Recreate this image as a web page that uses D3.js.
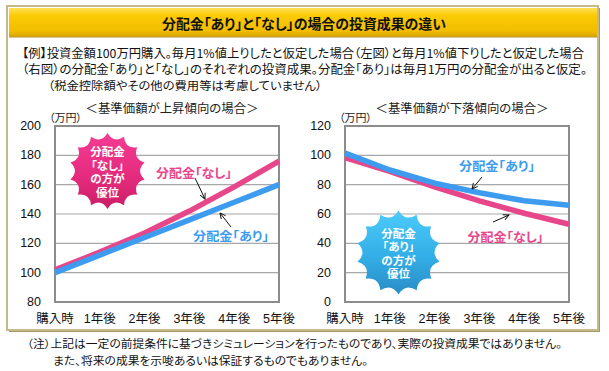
<!DOCTYPE html>
<html>
<head>
<meta charset="utf-8">
<script src="https://cdn.jsdelivr.net/npm/d3@7/dist/d3.min.js"></script>
<style>
  html, body { margin: 0; padding: 0; background: #fff; }
  svg { display: block; }
  text { font-feature-settings: "palt"; }
</style>
</head>
<body>
<div id="box"></div>
<script>
// 横軸
const periods = ['購入時', '1年後', '2年後', '3年後', '4年後', '5年後'];
// 左図：基準価額が上昇傾向
const upNashi = [102, 114, 127, 142, 158.5, 176];
const upAri   = [100, 112, 124, 136, 148, 160];
const upTicks = [80, 100, 120, 140, 160, 180, 200];
// 右図：基準価額が下落傾向
const downAri   = [101.5, 90, 81, 74.5, 69, 66];
const downNashi = [98.5, 89, 78.5, 69, 60.5, 53];
const downTicks = [0, 20, 40, 60, 80, 100, 120];

const PINK = '#e8468a';
const BLUE = '#3d9cf0';
const JP = '"Noto Sans CJK JP", sans-serif';
const NUM = '"Liberation Sans", "Noto Sans CJK JP", sans-serif';

let svg = d3.select('#box').append('svg')
    .attr('width', 609)
    .attr('height', 371);

let defs = svg.append('defs');

function grad(id, stops, x2 = 0, y2 = 1) {
    let g = defs.append('linearGradient').attr('id', id)
        .attr('x1', 0).attr('y1', 0).attr('x2', x2).attr('y2', y2);
    stops.forEach(s => g.append('stop').attr('offset', s[0]).attr('stop-color', s[1]));
}
grad('barGrad', [[0, '#ffe15a'], [0.25, '#fbcb06'], [0.8, '#f2bd00'], [1, '#d9a400']]);
grad('pinkGrad', [[0, '#f43c94'], [0.6, '#e42a7c'], [1, '#c91f66']]);
grad('blueGrad', [[0, '#4ccbfa'], [0.55, '#33aee6'], [1, '#2a8cc6']]);

let mk = defs.append('marker').attr('id', 'arr')
    .attr('viewBox', '0 0 10 10').attr('refX', 9).attr('refY', 5)
    .attr('markerWidth', 7).attr('markerHeight', 7).attr('orient', 'auto')
    .attr('markerUnits', 'userSpaceOnUse');
mk.append('path').attr('d', 'M1,1 L9,5 L1,9').attr('fill', 'none')
    .attr('stroke', '#111').attr('stroke-width', 1.3);

/* 外枠とタイトル帯 */
svg.append('rect').attr('x', 9).attr('y', 8).attr('width', 591).attr('height', 324)
    .attr('fill', '#a39a6a');
svg.append('rect').attr('x', 7).attr('y', 6).attr('width', 591).attr('height', 324)
    .attr('fill', '#fff').attr('stroke', '#c6b98c').attr('stroke-width', 2);
svg.append('rect').attr('x', 9).attr('y', 8).attr('width', 588).attr('height', 29)
    .attr('fill', 'url(#barGrad)');
svg.append('line').attr('x1', 9).attr('x2', 597).attr('y1', 37).attr('y2', 37)
    .attr('stroke', '#b8962e').attr('stroke-width', 1);

function text(x, y, str, opt = {}) {
    let t = svg.append('text')
        .attr('x', x).attr('y', y)
        .attr('font-family', opt.family || JP)
        .attr('font-size', opt.size || 11.5)
        .attr('font-weight', opt.weight || 'normal')
        .attr('fill', opt.fill || '#111')
        .attr('text-anchor', opt.anchor || 'start')
        .attr('dominant-baseline', 'central')
        .text(str);
    if (opt.len) t.attr('textLength', opt.len).attr('lengthAdjust', 'spacingAndGlyphs');
    return t;
}

text(304, 23, '分配金「あり」と「なし」の場合の投資成果の違い',
    { size: 13.5, weight: 'bold', anchor: 'middle', len: 284 });
text(22, 52, '【例】投資金額100万円購入。毎月1%値上りしたと仮定した場合（左図）と毎月1%値下りしたと仮定した場合', { size: 12, len: 562 });
text(22, 68.5, '（右図）の分配金「あり」と「なし」のそれぞれの投資成果。分配金「あり」は毎月1万円の分配金が出ると仮定。', { size: 12, len: 565 });
text(48, 85, '（税金控除額やその他の費用等は考慮していません）', { len: 274 });

text(27, 343, '（注）上記は一定の前提条件に基づきシミュレーションを行ったものであり、実際の投資成果ではありません。', { size: 10.8, len: 535 });
text(53, 359.5, 'また、将来の成果を示唆あるいは保証するものでもありません。', { size: 10.8, len: 315 });

/* 星形バッジ */
function burst(cx, cy, R, n) {
    let p = d3.path();
    for (let i = 0; i < n; i++) {
        let a0 = -Math.PI / 2 + i * 2 * Math.PI / n;
        let a1 = a0 + 2 * Math.PI / n;
        let am = (a0 + a1) / 2;
        if (i === 0) p.moveTo(cx + R * Math.cos(a0), cy + R * Math.sin(a0));
        p.quadraticCurveTo(cx + 0.74 * R * Math.cos(am), cy + 0.74 * R * Math.sin(am),
            cx + R * Math.cos(a1), cy + R * Math.sin(a1));
    }
    p.closePath();
    return p.toString();
}

function drawChart(cfg) {
    let x = d3.scalePoint().domain(periods).range([cfg.left, cfg.left + 224]);
    let y = d3.scaleLinear().domain(d3.extent(cfg.ticks)).range([302, 126]);
    let g = svg.append('g');

    // グリッド
    g.selectAll('.grid').data(cfg.ticks.slice(1, -1)).enter().append('line')
        .attr('x1', cfg.left).attr('x2', cfg.left + 224)
        .attr('y1', d => y(d)).attr('y2', d => y(d))
        .attr('stroke', '#a8a8a8').attr('stroke-width', 1.2);
    g.append('rect').attr('x', cfg.left).attr('y', y.range()[1])
        .attr('width', 224).attr('height', y.range()[0] - y.range()[1])
        .attr('fill', 'none').attr('stroke', '#8c8c8c').attr('stroke-width', 2);

    // 軸ラベル
    g.selectAll('.yl').data(cfg.ticks).enter().append('text')
        .attr('x', cfg.left - 14).attr('y', d => y(d))
        .attr('text-anchor', 'end').attr('dominant-baseline', 'central')
        .attr('font-family', NUM).attr('font-size', 12.5).attr('fill', '#111')
        .text(d => d);
    g.selectAll('.xl').data(periods).enter().append('text')
        .attr('x', d => x(d)).attr('y', 319)
        .attr('text-anchor', 'middle').attr('dominant-baseline', 'central')
        .attr('font-family', NUM).attr('font-size', 12.5).attr('fill', '#111')
        .text(d => d);

    text(cfg.left + 117, 107, cfg.sub, { size: 12, anchor: 'middle', fill: '#222', len: 173 });
    text(cfg.left - 6, 117, '（万円）', { size: 11, fill: '#222' });

    // 折れ線
    let line = d3.line().x((d, i) => x(periods[i])).y(d => y(d));
    cfg.series.forEach(s => {
        g.append('path').attr('d', line(s.values)).attr('fill', 'none')
            .attr('stroke', s.color).attr('stroke-width', 5.5)
            .attr('stroke-linejoin', 'round');
    });

    // 吹き出しラベルと矢印
    cfg.labels.forEach(l => {
        text(l.x, l.y, l.text, { size: 12.5, weight: 'bold', fill: l.color, anchor: 'middle', len: 76 });
        g.append('line').attr('x1', l.ax[0]).attr('y1', l.ax[1])
            .attr('x2', l.ax[2]).attr('y2', l.ax[3])
            .attr('stroke', '#111').attr('stroke-width', 1)
            .attr('marker-end', 'url(#arr)');
    });

    // バッジ
    let b = cfg.badge;
    g.append('path').attr('d', burst(b.x, b.y, b.r, 14)).attr('fill', b.fill);
    b.lines.forEach((s, i) => {
        text(b.x, b.y - 20 + i * 13.5, s, { size: 11.5, weight: 'bold', fill: '#fff', anchor: 'middle' });
    });
}

drawChart({
    left: 55,
    ticks: upTicks,
    sub: '＜基準価額が上昇傾向の場合＞',
    series: [{ values: upNashi, color: PINK }, { values: upAri, color: BLUE }],
    labels: [
        { text: '分配金「なし」', x: 194, y: 172, color: PINK, ax: [195, 178, 205, 199] },
        { text: '分配金「あり」', x: 231, y: 235, color: BLUE, ax: [231, 227, 220, 213] }
    ],
    badge: { x: 107.5, y: 171, r: 38, fill: 'url(#pinkGrad)', lines: ['分配金', '「なし」', 'の方が', '優位'] }
});

drawChart({
    left: 345,
    ticks: downTicks,
    sub: '＜基準価額が下落傾向の場合＞',
    series: [{ values: downNashi, color: PINK }, { values: downAri, color: BLUE }],
    labels: [
        { text: '分配金「あり」', x: 497, y: 165, color: BLUE, ax: [482, 177, 472, 189] },
        { text: '分配金「なし」', x: 505.5, y: 236.5, color: PINK, ax: [493, 222, 509, 215] }
    ],
    badge: { x: 398.5, y: 252.5, r: 42, fill: 'url(#blueGrad)', lines: ['分配金', '「あり」', 'の方が', '優位'] }
});
</script>
</body>
</html>
